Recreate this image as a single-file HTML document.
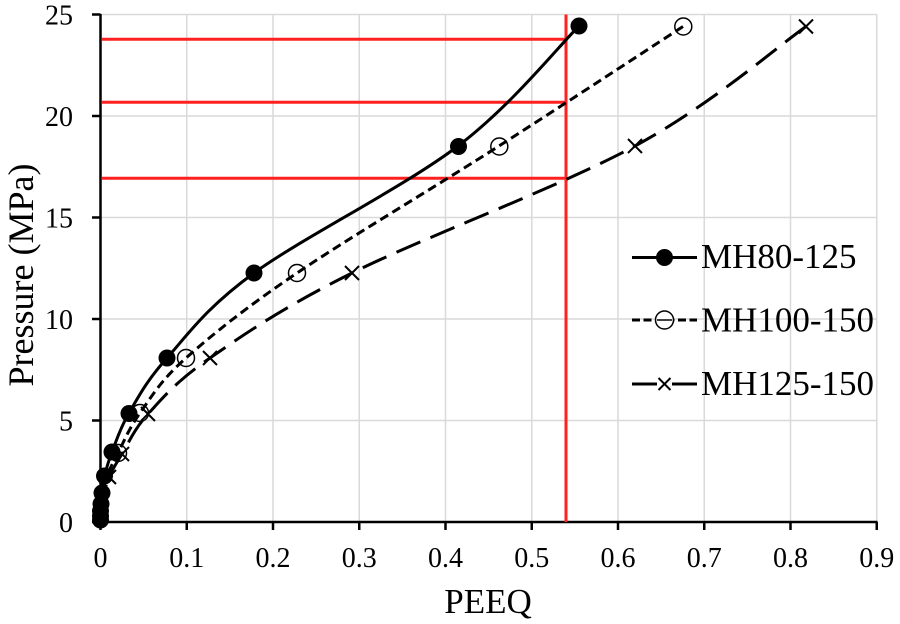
<!DOCTYPE html>
<html>
<head>
<meta charset="utf-8">
<style>
  html,body{margin:0;padding:0;background:#fff;}
  svg{display:block;}
  text{font-family:"Liberation Serif","Times New Roman",serif;fill:#000;}
</style>
</head>
<body>
<svg width="900" height="624" viewBox="0 0 900 624" xmlns="http://www.w3.org/2000/svg">
  <rect width="900" height="624" fill="#fff"/>
  <!-- gridlines -->
  <g stroke="#d9d9d9" stroke-width="1.5" fill="none">
    <line x1="186.75" y1="14.5" x2="186.75" y2="522"/>
    <line x1="273" y1="14.5" x2="273" y2="522"/>
    <line x1="359.25" y1="14.5" x2="359.25" y2="522"/>
    <line x1="445.5" y1="14.5" x2="445.5" y2="522"/>
    <line x1="531.75" y1="14.5" x2="531.75" y2="522"/>
    <line x1="618" y1="14.5" x2="618" y2="522"/>
    <line x1="704.25" y1="14.5" x2="704.25" y2="522"/>
    <line x1="790.5" y1="14.5" x2="790.5" y2="522"/>
    <line x1="876.75" y1="14.5" x2="876.75" y2="522"/>
    <line x1="100.5" y1="420.5" x2="876.75" y2="420.5"/>
    <line x1="100.5" y1="319" x2="876.75" y2="319"/>
    <line x1="100.5" y1="217.5" x2="876.75" y2="217.5"/>
    <line x1="100.5" y1="116" x2="876.75" y2="116"/>
    <line x1="100.5" y1="14.5" x2="876.75" y2="14.5"/>
  </g>

  <!-- axes -->
  <g stroke="#000" stroke-width="2.5" fill="none">
    <line x1="100.5" y1="14" x2="100.5" y2="523"/>
    <line x1="99.5" y1="522" x2="877.5" y2="522"/>
    <!-- y ticks -->
    <line x1="92" y1="522" x2="100.5" y2="522"/>
    <line x1="92" y1="420.5" x2="100.5" y2="420.5"/>
    <line x1="92" y1="319" x2="100.5" y2="319"/>
    <line x1="92" y1="217.5" x2="100.5" y2="217.5"/>
    <line x1="92" y1="116" x2="100.5" y2="116"/>
    <line x1="92" y1="14.5" x2="100.5" y2="14.5"/>
    <!-- x ticks -->
    <line x1="100.5" y1="522" x2="100.5" y2="530"/>
    <line x1="186.75" y1="522" x2="186.75" y2="530"/>
    <line x1="273" y1="522" x2="273" y2="530"/>
    <line x1="359.25" y1="522" x2="359.25" y2="530"/>
    <line x1="445.5" y1="522" x2="445.5" y2="530"/>
    <line x1="531.75" y1="522" x2="531.75" y2="530"/>
    <line x1="618" y1="522" x2="618" y2="530"/>
    <line x1="704.25" y1="522" x2="704.25" y2="530"/>
    <line x1="790.5" y1="522" x2="790.5" y2="530"/>
    <line x1="876.75" y1="522" x2="876.75" y2="530"/>
  </g>

  <!-- red reference lines -->
  <g stroke="#ff2020" stroke-width="3" fill="none">
    <line x1="102" y1="39.3" x2="566" y2="39.3"/>
    <line x1="102" y1="102.2" x2="566" y2="102.2"/>
    <line x1="102" y1="178.3" x2="566" y2="178.3"/>
    <line x1="566" y1="14.5" x2="566" y2="522"/>
  </g>

  <!-- y tick labels -->
  <g font-size="28" text-anchor="end">
    <text x="73" y="532">0</text>
    <text x="73" y="430.5">5</text>
    <text x="73" y="329">10</text>
    <text x="73" y="227.5">15</text>
    <text x="73" y="126">20</text>
    <text x="73" y="24.5">25</text>
  </g>
  <!-- x tick labels -->
  <g font-size="28" text-anchor="middle">
    <text x="100.5" y="567">0</text>
    <text x="186.75" y="567">0.1</text>
    <text x="273" y="567">0.2</text>
    <text x="359.25" y="567">0.3</text>
    <text x="445.5" y="567">0.4</text>
    <text x="531.75" y="567">0.5</text>
    <text x="618" y="567">0.6</text>
    <text x="704.25" y="567">0.7</text>
    <text x="790.5" y="567">0.8</text>
    <text x="876.75" y="567">0.9</text>
  </g>

  <!-- axis titles -->
  <text x="488" y="613" font-size="35" text-anchor="middle">PEEQ</text>
  <text transform="translate(33,275) rotate(-90)" font-size="36" text-anchor="middle">Pressure (MPa)</text>

  <!-- Series C: MH125-150 long dash -->
  <path fill="none" stroke="#000" stroke-width="3" stroke-dasharray="26,11"
    d="M806,26.5 C777.5,46.5 711,104.8 635,146
       C559,187.2 422.8,237.7 352,273
       C281.2,308.3 244,334.5 210,358
       C176,381.5 162.7,398 148,414
       C133.3,430 128.5,443.5 122,454
       C115.5,464.5 112,470.3 109,477
       C106,483.7 105.25,489.2 104,494
       L101.5,506 L100.5,521"/>
  <g stroke="#000" stroke-width="2" fill="none">
    <path d="M799,19.5 l14,14 M813,19.5 l-14,14"/>
    <path d="M628,139 l14,14 M642,139 l-14,14"/>
    <path d="M345,266 l14,14 M359,266 l-14,14"/>
    <path d="M203,351 l14,14 M217,351 l-14,14"/>
    <path d="M141,407 l14,14 M155,407 l-14,14"/>
    <path d="M115,447 l14,14 M129,447 l-14,14"/>
    <path d="M102,470 l14,14 M116,470 l-14,14"/>
  </g>

  <!-- Series B: MH100-150 short dash -->
  <path fill="none" stroke="#000" stroke-width="3" stroke-dasharray="9,5"
    d="M683,26.5 C652.3,46.5 563.3,104.8 499,146
       C434.7,187.2 349.2,237.7 297,273
       C244.8,308.3 212.2,334.7 186,358
       C159.8,381.3 151.3,397.2 140,413
       C128.7,428.8 123.5,442.5 118,453
       C112.5,463.5 109.5,469.3 107,476
       C104.5,482.7 104,488.2 103,493
       L101,505 L100.5,521"/>
  <g stroke="#000" stroke-width="1.5" fill="none">
    <circle cx="683.3" cy="26.5" r="8.5"/>
    <circle cx="499.3" cy="146.5" r="8.5"/>
    <circle cx="297" cy="273" r="8.5"/>
    <circle cx="186" cy="358" r="8.5"/>
    <circle cx="140" cy="413" r="8.5"/>
    <circle cx="118" cy="453" r="8.5"/>
  </g>

  <!-- Series A: MH80-125 solid -->
  <path fill="none" stroke="#000" stroke-width="3"
    d="M579,26 C558.8,46 512.2,104.8 458,146
       C403.8,187.2 302.5,237.7 254,273
       C205.5,308.3 187.8,334.7 167,358
       C146.2,381.3 138.2,397.3 129,413
       C119.8,428.7 116.1,441.5 112,452
       C107.9,462.5 106.2,469.2 104.5,476
       C102.8,482.8 102.6,488.3 102,493
       L101,504 L100.5,512 L100.5,521"/>
  <g fill="#000">
    <circle cx="579" cy="26" r="8.5"/>
    <circle cx="458.5" cy="146.5" r="8.5"/>
    <circle cx="254" cy="273" r="8.5"/>
    <circle cx="167" cy="358" r="8.5"/>
    <circle cx="129" cy="413.5" r="8.5"/>
    <circle cx="112" cy="452" r="8.5"/>
    <circle cx="104.5" cy="476" r="8.5"/>
    <circle cx="102" cy="493" r="8.5"/>
    <circle cx="101" cy="504" r="8.5"/>
    <circle cx="100.5" cy="511" r="8.5"/>
    <circle cx="100.5" cy="516" r="8.5"/>
    <circle cx="100.5" cy="520" r="8.5"/>
  </g>

  <!-- legend -->
  <g>
    <line x1="632" y1="257.5" x2="697" y2="257.5" stroke="#000" stroke-width="3"/>
    <circle cx="664.5" cy="257.5" r="8.5" fill="#000"/>
    <text x="701" y="268" font-size="35">MH80-125</text>

    <line x1="632" y1="320" x2="697" y2="320" stroke="#000" stroke-width="3" stroke-dasharray="8,3.5"/>
    <circle cx="664.5" cy="320" r="9" fill="#fff" stroke="#000" stroke-width="1.5"/>
    <line x1="657" y1="320" x2="672" y2="320" stroke="#000" stroke-width="1.5"/>
    <text x="701" y="331.5" font-size="35">MH100-150</text>

    <line x1="632" y1="384" x2="657" y2="384" stroke="#000" stroke-width="3"/>
    <line x1="672" y1="384" x2="697" y2="384" stroke="#000" stroke-width="3"/>
    <path d="M658.5,378 l12,12 M670.5,378 l-12,12" stroke="#000" stroke-width="2" fill="none"/>
    <text x="701" y="395" font-size="35">MH125-150</text>
  </g>
</svg>
</body>
</html>
